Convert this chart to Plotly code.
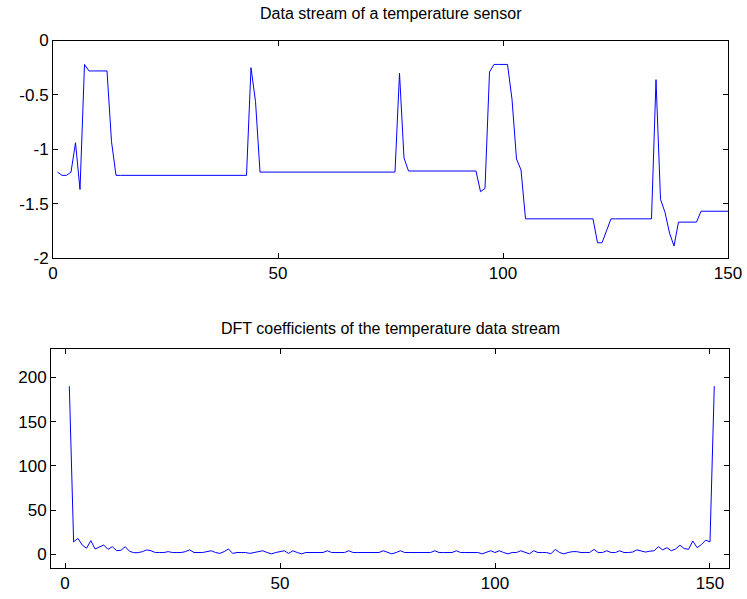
import plotly.graph_objects as go

# ---- Data ----
sample_index = list(range(1, 151))
temperature = [
    -1.21, -1.24, -1.24, -1.21, -0.94, -1.37, -0.22, -0.28, -0.28, -0.28,
    -0.28, -0.28, -0.93, -1.24, -1.24, -1.24, -1.24, -1.24, -1.24, -1.24,
    -1.24, -1.24, -1.24, -1.24, -1.24, -1.24, -1.24, -1.24, -1.24, -1.24,
    -1.24, -1.24, -1.24, -1.24, -1.24, -1.24, -1.24, -1.24, -1.24, -1.24,
    -1.24, -1.24, -1.24, -0.25, -0.56, -1.21, -1.21, -1.21, -1.21, -1.21,
    -1.21, -1.21, -1.21, -1.21, -1.21, -1.21, -1.21, -1.21, -1.21, -1.21,
    -1.21, -1.21, -1.21, -1.21, -1.21, -1.21, -1.21, -1.21, -1.21, -1.21,
    -1.21, -1.21, -1.21, -1.21, -1.21, -1.21, -0.30, -1.08, -1.20, -1.20,
    -1.20, -1.20, -1.20, -1.20, -1.20, -1.20, -1.20, -1.20, -1.20, -1.20,
    -1.20, -1.20, -1.20, -1.20, -1.39, -1.36, -0.29, -0.22, -0.22, -0.22,
    -0.22, -0.54, -1.09, -1.19, -1.64, -1.64, -1.64, -1.64, -1.64, -1.64,
    -1.64, -1.64, -1.64, -1.64, -1.64, -1.64, -1.64, -1.64, -1.64, -1.64,
    -1.86, -1.86, -1.75, -1.64, -1.64, -1.64, -1.64, -1.64, -1.64, -1.64,
    -1.64, -1.64, -1.64, -0.36, -1.46, -1.58, -1.77, -1.89, -1.67, -1.67,
    -1.67, -1.67, -1.67, -1.57, -1.57, -1.57, -1.57, -1.57, -1.57, -1.57,
]

dft_index = list(range(1, 152))
dft_coeffs = [
    190, 14, 18, 10.5, 6.8, 15.4, 6, 7.9, 10.5, 5.6,
    8.6, 4.1, 4.5, 8.6, 3.4, 1.8, 1.8, 3, 5, 4,
    2, 2, 2, 3, 2, 2, 2, 3, 5, 2,
    2, 2, 3, 4, 2, 1, 3, 6, 1, 2,
    2, 2, 1, 2, 3, 4, 2, 0.5, 2, 3,
    4, 1, 4, 2, 0.5, 2, 2, 2, 2, 2,
    4, 2, 2, 2, 2, 4, 2, 2, 2, 2,
    2, 2, 2, 4, 2, 0.5, 2, 4, 2, 2,
    2, 2, 2, 2, 2, 4, 2, 2, 2, 2,
    4, 2, 2, 2, 2, 2, 0.5, 2, 4, 2,
    4, 2, 0.5, 2, 2, 4, 2, 0.5, 4, 2,
    2, 2, 0.5, 5.5, 2, 0.5, 2, 3, 3, 2,
    2, 2, 5.5, 2, 2, 4, 2, 2, 4, 2,
    2, 2.5, 5, 4, 2.5, 3.5, 4, 8.6, 5, 7.5,
    4, 6, 10.3, 6.5, 5.6, 15, 7.5, 11, 16, 14,
    190,
]

titles = ["Data stream of a temperature sensor",
          "DFT coefficients of the temperature data stream"]

top_xticks = [0, 50, 100, 150]
top_yticks = [-2, -1.5, -1, -0.5, 0]
top_yticklabels = ["-2", "-1.5", "-1", "-0.5", "0"]
bot_xticks = [0, 50, 100, 150]
bot_yticks = [0, 50, 100, 150, 200]

W, H = 747, 599
FONT = "Liberation Sans, Arial, sans-serif"

fig = go.Figure()
fig.add_trace(go.Scatter(x=sample_index, y=temperature, mode="lines",
                         line=dict(color="#0000FF", width=1),
                         xaxis="x", yaxis="y", showlegend=False))
fig.add_trace(go.Scatter(x=dft_index, y=dft_coeffs, mode="lines",
                         line=dict(color="#0000FF", width=1),
                         xaxis="x2", yaxis="y2", showlegend=False))

axis_common = dict(showgrid=False, zeroline=False, showline=True,
                   linecolor="black", linewidth=1, mirror="ticks",
                   ticks="inside", ticklen=5, tickcolor="black",
                   automargin=False,
                   tickfont=dict(family=FONT, size=17, color="black"))

fig.update_layout(
    width=W, height=H,
    margin=dict(l=0, r=0, t=0, b=0, autoexpand=False),
    paper_bgcolor="white", plot_bgcolor="white",
    xaxis=dict(domain=[53 / W, 728 / W], range=[0, 150],
               tickvals=top_xticks, anchor="y", **axis_common),
    yaxis=dict(domain=[1 - 258 / H, 1 - 40.5 / H], range=[-2, 0],
               tickvals=top_yticks, ticktext=top_yticklabels,
               anchor="x", **axis_common),
    xaxis2=dict(domain=[51 / W, 729 / W], range=[-3.26, 154.42],
                tickvals=bot_xticks, anchor="y2", **axis_common),
    yaxis2=dict(domain=[1 - 568 / H, 1 - 349 / H], range=[-15.5, 232],
                tickvals=bot_yticks, anchor="x2", **axis_common),
    annotations=[
        dict(text=titles[0], x=391 / W, y=1 - 13 / H, xref="paper", yref="paper",
             xanchor="center", yanchor="middle", showarrow=False,
             font=dict(family=FONT, size=16, color="black")),
        dict(text=titles[1], x=391 / W, y=1 - 328 / H, xref="paper", yref="paper",
             xanchor="center", yanchor="middle", showarrow=False,
             font=dict(family=FONT, size=16, color="black")),
    ],
)

fig.write_html("out.html")
